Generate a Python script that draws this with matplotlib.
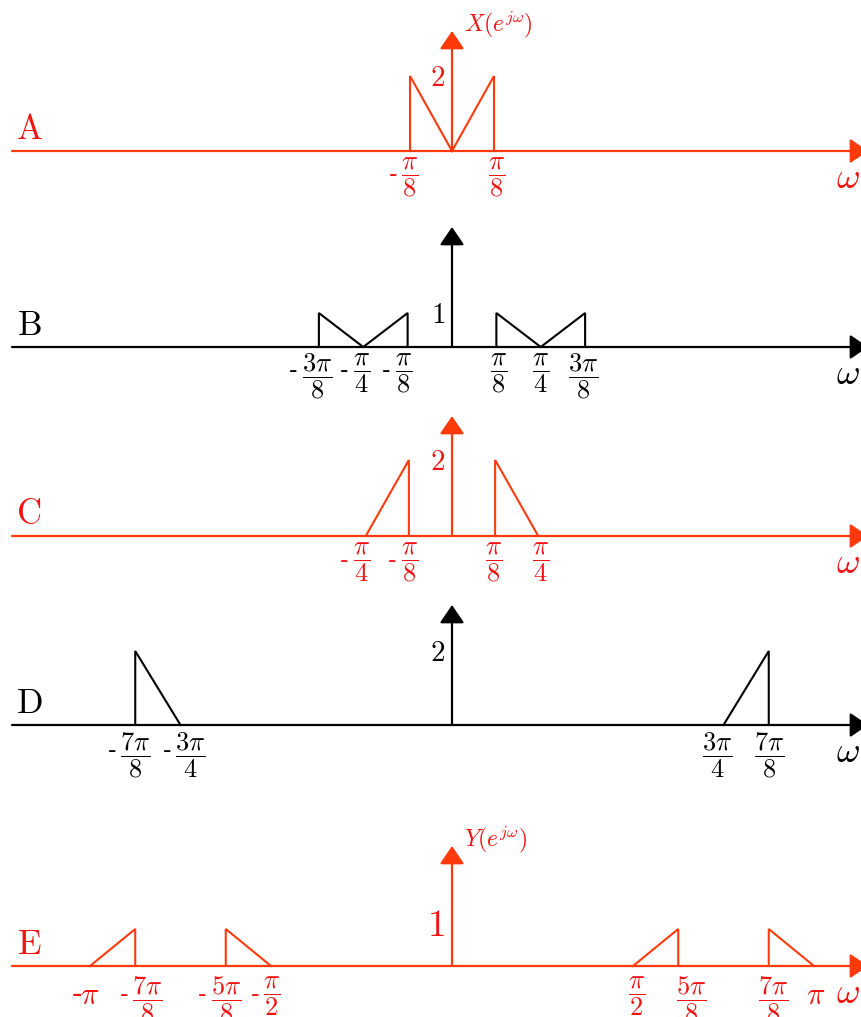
import matplotlib
matplotlib.use("Agg")
import matplotlib.pyplot as plt

plt.rcParams['mathtext.fontset'] = 'cm'
plt.rcParams['font.family'] = 'serif'

a_w = [-1/8, -1/8, 0, 1/8, 1/8]
a_mag = [0, 2, 0, 2, 0]

b_left_w = [-3/8, -3/8, -1/4, -1/8, -1/8]
b_right_w = [1/8, 1/8, 1/4, 3/8, 3/8]
b_mag = [0, 1, 0, 1, 0]

c_left_w = [-1/4, -1/8, -1/8]
c_left_mag = [0, 2, 0]
c_right_w = [1/8, 1/8, 1/4]
c_right_mag = [0, 2, 0]

d_left_w = [-7/8, -7/8, -3/4]
d_left_mag = [0, 2, 0]
d_right_w = [3/4, 7/8, 7/8]
d_right_mag = [0, 2, 0]

e_w1 = [-1, -7/8, -7/8]
e_mag1 = [0, 1, 0]
e_w2 = [-5/8, -5/8, -1/2]
e_mag2 = [0, 1, 0]
e_w3 = [1/2, 5/8, 5/8]
e_mag3 = [0, 1, 0]
e_w4 = [7/8, 7/8, 1]
e_mag4 = [0, 1, 0]

# tick positions (units of pi) and numerator/denominator of each label
a_ticks = [-1/8, 1/8]
a_labels = [("\\pi", "8"), ("\\pi", "8")]
b_ticks = [-3/8, -1/4, -1/8, 1/8, 1/4, 3/8]
b_labels = [("3\\pi", "8"), ("\\pi", "4"), ("\\pi", "8"), ("\\pi", "8"), ("\\pi", "4"), ("3\\pi", "8")]
c_ticks = [-1/4, -1/8, 1/8, 1/4]
c_labels = [("\\pi", "4"), ("\\pi", "8"), ("\\pi", "8"), ("\\pi", "4")]
d_ticks = [-7/8, -3/4, 3/4, 7/8]
d_labels = [("7\\pi", "8"), ("3\\pi", "4"), ("3\\pi", "4"), ("7\\pi", "8")]
e_ticks = [-1, -7/8, -5/8, -1/2, 1/2, 5/8, 7/8, 1]
e_labels = [None, ("7\\pi", "8"), ("5\\pi", "8"), ("\\pi", "2"),
            ("\\pi", "2"), ("5\\pi", "8"), ("7\\pi", "8"), None]

panel_names = ["A", "B", "C", "D", "E"]
peak_values = [2, 1, 2, 2, 1]

RED_LINE = "#ff3a0a"
RED_TEXT = "#f21212"
BLACK = "black"

W, H = 862, 1017
fig = plt.figure(figsize=(W / 100, H / 100), dpi=100)

# layout of each panel: baseline pixel row, px per pi, px per unit,
# and small horizontal nudges (pixels) of the tick labels
panels = [
    dict(y0=151, sx=336, sy=37.5, color=RED_LINE, tcolor=RED_TEXT,
         curves=[(a_w, a_mag)], ticks=a_ticks, labels=a_labels,
         nudge=[0, 3], ylabel="$X(e^{j\\omega})$", tick_dy=-5),
    dict(y0=347, sx=355, sy=34, color=BLACK, tcolor=BLACK,
         curves=[(b_left_w, b_mag), (b_right_w, b_mag)], ticks=b_ticks,
         labels=b_labels, nudge=[-2, -2, -4, 2, 0, -2], ylabel=None, tick_dy=-5),
    dict(y0=536, sx=345, sy=38, color=RED_LINE, tcolor=RED_TEXT,
         curves=[(c_left_w, c_left_mag), (c_right_w, c_right_mag)],
         ticks=c_ticks, labels=c_labels, nudge=[-4, 1, -2, 2], ylabel=None, tick_dy=-5),
    dict(y0=725, sx=362, sy=37, color=BLACK, tcolor=BLACK,
         curves=[(d_left_w, d_left_mag), (d_right_w, d_right_mag)],
         ticks=d_ticks, labels=d_labels, nudge=[0, 10, -6, 0], ylabel=None, tick_dy=-6),
    dict(y0=966, sx=362, sy=37, color=RED_LINE, tcolor=RED_TEXT,
         curves=[(e_w1, e_mag1), (e_w2, e_mag2), (e_w3, e_mag3), (e_w4, e_mag4)],
         ticks=e_ticks, labels=e_labels, nudge=[0, 12, 0, 1, 4, 13, 4, 2],
         ylabel="$Y(e^{j\\omega})$", tick_dy=-9),
]

for p, name, peak in zip(panels, panel_names, peak_values):
    y0, sx, sy = p["y0"], p["sx"], p["sy"]
    ax = fig.add_axes([0, 1 - (y0 + 60) / H, 1, 200 / H])
    ax.set_xlim(-452 / sx, (W - 452) / sx)
    ax.set_ylim(-60 / sy, 140 / sy)
    ax.axis("off")
    col, tcol = p["color"], p["tcolor"]

    # omega axis
    x_left = (12 - 452) / sx
    x_tip = (868 - 452) / sx
    ax.annotate("", xy=(x_tip, 0), xytext=(x_left, 0),
                arrowprops=dict(arrowstyle="-|>,head_length=1.1,head_width=0.75",
                                color=col, lw=1.6, shrinkA=0, shrinkB=0),
                annotation_clip=False)
    # magnitude axis
    ax.annotate("", xy=(0, 120 / sy), xytext=(0, 0),
                arrowprops=dict(arrowstyle="-|>,head_length=1.1,head_width=0.75",
                                color=col, lw=1.6, shrinkA=0, shrinkB=0),
                annotation_clip=False)

    for w, mag in p["curves"]:
        ax.plot(w, mag, color=col, lw=1.5, solid_joinstyle="miter", clip_on=False)

    # panel letter and omega
    ax.annotate("$\\mathrm{%s}$" % name, xy=(x_left, 0), xytext=(17, 22),
                textcoords="offset pixels", ha="center", va="center",
                fontsize=25, color=tcol, annotation_clip=False)
    ax.annotate("$\\omega$", xy=(x_tip, 0), xytext=(-20, -27),
                textcoords="offset pixels", ha="center", va="center",
                fontsize=26, color=tcol, annotation_clip=False)

    # peak value next to vertical axis
    big = name == "E"
    ax.annotate("$%d$" % peak, xy=(0, peak), xytext=(-7, 3 if big else -2),
                textcoords="offset pixels", ha="right", va="center",
                fontsize=27 if big else 21, color=tcol, annotation_clip=False)

    if p["ylabel"]:
        ax.annotate(p["ylabel"], xy=(0, 120 / sy), xytext=(12, 6),
                    textcoords="offset pixels", ha="left", va="center",
                    fontsize=17, color=tcol, annotation_clip=False)

    # tick labels
    for t, lab, dx in zip(p["ticks"], p["labels"], p["nudge"]):
        if lab is None:
            # plain -pi / pi labels
            ax.annotate("$\\pi$", xy=(t, 0), xytext=(dx, -29), textcoords="offset pixels",
                        ha="center", va="center", fontsize=22, color=tcol,
                        annotation_clip=False)
            if t < 0:
                ax.annotate("-", xy=(t, 0), xytext=(dx - 8, -29), textcoords="offset pixels",
                            ha="right", va="center", fontsize=22, color=tcol,
                            annotation_clip=False)
            continue
        num, den = lab
        s = "$\\dfrac{%s}{%s}$" % (num, den)
        ax.annotate(s, xy=(t, 0), xytext=(dx, p["tick_dy"]), textcoords="offset pixels",
                    ha="center", va="top", fontsize=19, color=tcol,
                    annotation_clip=False)
        if t < 0:
            half = 19 if len(num) > 3 else 13
            ax.annotate("-", xy=(t, 0), xytext=(dx - half, p["tick_dy"] - 20),
                        textcoords="offset pixels", ha="right", va="center",
                        fontsize=18, color=tcol, annotation_clip=False)

fig.savefig("out.png", dpi=100)
